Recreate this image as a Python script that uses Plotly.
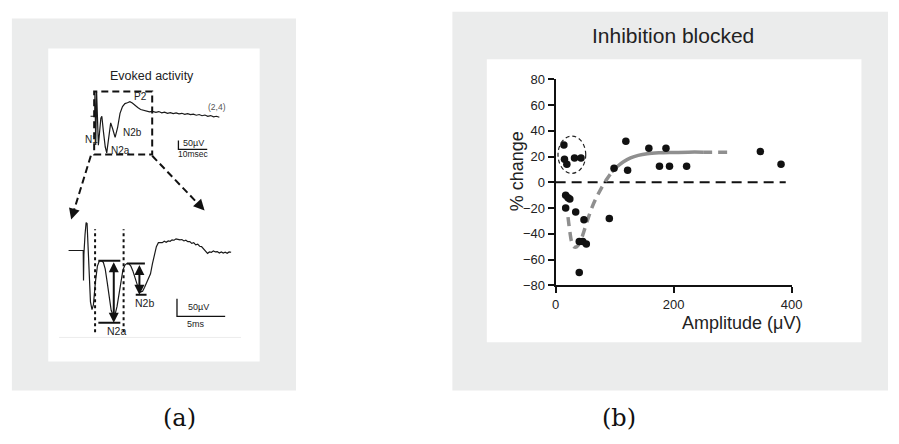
import plotly.graph_objects as go

W, H = 899, 444
SANS = "Liberation Sans, Arial, sans-serif"
INK = "#222222"
PANEL_GRAY = "#ebecec"

# ---------------- Panel (b): % change vs. amplitude ----------------
amplitude_uv = [14, 15, 19, 32, 43,
                17, 21, 24, 17, 34, 48, 91, 40, 46, 52, 40,
                99, 119, 122, 158, 187, 176, 193, 222, 347, 382]
percent_change = [29, 18, 14, 19, 19,
                  -10, -12, -13, -20, -23, -29, -28, -46, -46, -48, -70,
                  11, 32, 9.5, 26.5, 26.5, 12.5, 12.5, 12.5, 24, 14]

# fitted trend: dashed where extrapolated, solid over the sampled range
fit_low_x = [21, 24, 27, 31, 36, 42, 48, 55, 62, 70, 78, 86, 95]
fit_low_y = [-27, -38, -46, -50, -50, -46, -38, -28, -19, -11, -4, 2, 8]
fit_mid_x = [95, 105, 115, 127, 140, 155, 175, 200, 225, 250]
fit_mid_y = [8, 12.5, 16, 19, 21, 22.3, 23, 23.3, 23.5, 23.5]
fit_high_x = [250, 300]
fit_high_y = [23.5, 23.5]

zero_line_x = [0, 390]
zero_line_y = [0, 0]

# small-amplitude cluster outlined by a dashed ellipse
cluster_x = [4, 51]
cluster_y = [7, 36]

x_ticks = [0, 200, 400]
y_ticks = [-80, -60, -40, -20, 0, 20, 40, 60, 80]

# ---------------- Panel (a): evoked activity traces ----------------
# full sweep (ms, µV)
sweep_t = [-1.7, -0.27, -0.17, 0.1, 0.41, 0.68, 1.02, 1.88, 2.22, 2.73, 3.41,
           3.92, 4.44, 5.29, 5.97, 6.83, 7.68, 8.53, 9.39, 10.24, 11.09, 11.95,
           12.8, 13.65, 14.68, 15.7, 16.72, 17.75, 18.77, 19.8,
           21, 22, 23, 24, 25, 26, 27, 28, 29, 30, 31, 32, 33, 34, 35, 36, 37,
           38, 39, 40, 41, 42, 43]
sweep_uv = [-6, -6, 133, -172, 133, -89, -172, -17, -6, -89, -183,
            -217, -156, -44, -78, -128, -72, 11, 50, 67, 72, 78,
            70, 56, 44, 33, 28, 22, 19, 22,
            16, 21, 14, 18, 11, 15, 9, 13, 8, 11, 5, 9, 3, 6, 0, 4, -3,
            1, -6, -2, -9, -6, -12]

# window that is expanded below (ms, µV)
window_t = [-0.44, 19.7]
window_uv = [-226, 137]

# expanded early response (ms, µV)
zoom_t = [-1.56, -0.04, -0.01, 0.03, 0.15, 0.26, 0.36, 0.46, 0.58, 0.71, 0.87,
          1.02, 1.22, 1.43, 1.63, 1.84, 2.04, 2.24, 2.45, 2.65, 2.86, 3.06,
          3.27, 3.47, 3.67, 3.88, 4.08, 4.29, 4.49, 4.69, 4.9, 5.1, 5.31, 5.51,
          5.71, 5.92, 6.12, 6.33, 6.53, 6.73, 6.94, 7.14, 7.35, 7.55, 7.76,
          7.96, 8.16, 8.37, 8.57, 8.78, 8.98, 9.18, 9.39, 9.59, 9.8, 10.0,
          10.2, 10.41, 10.61, 10.82, 11.02, 11.22, 11.43, 11.63, 11.84, 12.04,
          12.24, 12.45, 12.65, 12.86, 13.06, 13.27, 13.47, 13.67, 13.88,
          14.08, 14.29, 14.49, 14.69, 14.9, 15.1, 15.31]
zoom_uv = [0, 0, -85, -11, 46, 79, 76, 5, -90, -145, -167,
           -153, -90, -44, -30, -29, -33, -52, -90, -137, -169, -183,
           -180, -158, -123, -85, -55, -41, -37, -37, -44, -57, -76, -96,
           -109, -117, -115, -104, -93, -82, -66, -38, -11, 11, 22,
           23, 22, 26, 23, 27, 26, 30, 29, 33, 31, 30,
           31, 27, 29, 25, 25, 20, 22, 16, 18, 12,
           11, 5, 0, -8, -4, -5, -1, -4, -3,
           -7, -4, -7, -5, -8, -4, -5]

# N2a / N2b amplitude measurements on the expanded trace
n2a_levels_uv = [-29, -204]
n2a_bar_t = [1.53, 3.81]
n2a_arrow_t = 3.13
n2b_levels_uv = [-37, -125]
n2b_top_bar_t = [4.49, 6.36]
n2b_bottom_bar_t = [5.41, 6.53]
n2b_arrow_t = 5.79
n2_window_t = [1.19, 4.15]
n2_window_uv = [-231, 60]

# calibration bars: (origin ms, origin µV, length ms, length µV)
sweep_cal = (28.8, -196, 10, 50)
zoom_cal = (9.69, -186, 5, 50)


def px(x):
    return x / W


def py(y):
    return 1 - y / H


fig = go.Figure()

# ---- panel (b) traces ----
fig.add_trace(go.Scatter(x=zero_line_x, y=zero_line_y, mode="lines",
                         line=dict(color="#111", width=2, dash="10px,6px"),
                         cliponaxis=False, xaxis="x", yaxis="y"))
fig.add_trace(go.Scatter(x=fit_low_x, y=fit_low_y, mode="lines",
                         line=dict(color="#8f8f8f", width=3.5, dash="9px,6px", shape="spline"),
                         xaxis="x", yaxis="y"))
fig.add_trace(go.Scatter(x=fit_mid_x, y=fit_mid_y, mode="lines",
                         line=dict(color="#8f8f8f", width=3.5, shape="spline"),
                         xaxis="x", yaxis="y"))
fig.add_trace(go.Scatter(x=fit_high_x, y=fit_high_y, mode="lines",
                         line=dict(color="#8f8f8f", width=3.5, dash="9px,6px"),
                         xaxis="x", yaxis="y"))
fig.add_trace(go.Scatter(x=amplitude_uv, y=percent_change, mode="markers",
                         marker=dict(color="#111", size=7.5), cliponaxis=False,
                         xaxis="x", yaxis="y"))

# ---- panel (a) traces ----
fig.add_trace(go.Scatter(x=sweep_t, y=sweep_uv, mode="lines",
                         line=dict(color="#1a1a1a", width=1.2),
                         xaxis="x2", yaxis="y2"))
fig.add_trace(go.Scatter(x=zoom_t, y=zoom_uv, mode="lines",
                         line=dict(color="#1a1a1a", width=1.2),
                         xaxis="x3", yaxis="y3"))

# calibration bars
for cal, xa, ya in [(sweep_cal, "x2", "y2"), (zoom_cal, "x3", "y3")]:
    t0, v0, dt, dv = cal
    fig.add_trace(go.Scatter(x=[t0, t0, t0 + dt], y=[v0 + dv, v0, v0], mode="lines",
                             line=dict(color="#111", width=1.3),
                             xaxis=xa, yaxis=ya))

# N2a / N2b measurement bars
bars = [
    (n2a_bar_t, n2a_levels_uv[0]), (n2a_bar_t, n2a_levels_uv[1]),
    (n2b_top_bar_t, n2b_levels_uv[0]), (n2b_bottom_bar_t, n2b_levels_uv[1]),
]
for bt, lv in bars:
    fig.add_trace(go.Scatter(x=bt, y=[lv, lv], mode="lines",
                             line=dict(color="#111", width=2),
                             xaxis="x3", yaxis="y3"))
for t in n2_window_t:
    fig.add_trace(go.Scatter(x=[t, t], y=n2_window_uv, mode="lines",
                             line=dict(color="#111", width=2, dash="dot"),
                             xaxis="x3", yaxis="y3"))

shapes = [
    # panel backgrounds
    dict(type="rect", xref="paper", yref="paper", x0=px(8), x1=px(297), y0=py(397), y1=py(12),
         fillcolor=PANEL_GRAY, line_width=0, layer="below"),
    dict(type="rect", xref="paper", yref="paper", x0=px(45), x1=px(260), y0=py(367), y1=py(43),
         fillcolor="white", line_width=0, layer="below"),
    dict(type="rect", xref="paper", yref="paper", x0=px(456), x1=px(899), y0=py(397), y1=py(5),
         fillcolor=PANEL_GRAY, line_width=0, layer="below"),
    dict(type="rect", xref="paper", yref="paper", x0=px(491), x1=px(872), y0=py(347), y1=py(54),
         fillcolor="white", line_width=0, layer="below"),
    dict(type="line", xref="paper", yref="paper", x0=px(56), x1=px(241), y0=py(342), y1=py(342),
         line=dict(color="#ececec", width=1), layer="below"),
    # expanded window
    dict(type="rect", xref="x2", yref="y2", x0=window_t[0], x1=window_t[1],
         y0=window_uv[0], y1=window_uv[1], line=dict(color="#111", width=2, dash="7px,4px")),
    # dashed guides to the expanded trace
    dict(type="line", xref="paper", yref="paper", x0=px(88.3), y0=py(154), x1=px(69.5), y1=py(216),
         line=dict(color="#111", width=2, dash="7px,4px")),
    dict(type="line", xref="paper", yref="paper", x0=px(150.7), y0=py(154), x1=px(201), y1=py(207.5),
         line=dict(color="#111", width=2, dash="7px,4px")),
    # outlined cluster
    dict(type="circle", xref="x", yref="y", x0=cluster_x[0], x1=cluster_x[1],
         y0=cluster_y[0], y1=cluster_y[1], line=dict(color="#222", width=1.2, dash="4px,3px")),
]

annotations = []


def note(text, x, y, size, family=SANS, color=INK, xanchor="center", **kw):
    annotations.append(dict(text=text, x=px(x), y=py(y), xref="paper", yref="paper",
                            xanchor=xanchor, yanchor="middle", showarrow=False,
                            font=dict(size=size, family=family, color=color), **kw))


# panel (a) text
note("Evoked activity", 150.7, 71.7, 12.5)
note("P2", 139, 93, 10)
note("N1", 88.5, 137, 10)
note("N2b", 131, 130, 10)
note("N2a", 118, 149, 10)
note("(2,4)", 216.7, 103.5, 8.5, color="#555")
note("50µV", 180.5, 140.7, 9, xanchor="left")
note("10msec", 193, 152.5, 8.5)
note("50µV", 185, 311, 9, xanchor="left")
note("5ms", 195, 327.7, 9)
note("N2a", 114.7, 335, 10.5)
note("N2b", 143, 306, 10.5)
note("(a)", 178, 425, 24, family="DejaVu Serif, serif", color="#111")

# panel (b) text
note("Inhibition blocked", 680, 30, 21)
note("% change", 521.7, 170, 18, textangle=-90)
note("Amplitude (μV)", 750.3, 327, 18)
note("(b)", 625, 425, 24, family="DejaVu Serif, serif", color="#111")

# arrowheads of the dashed guides
annotations.append(dict(x=px(68.3), y=py(220), xref="paper", yref="paper", text="",
                        showarrow=True, arrowhead=2, arrowsize=1.1, arrowwidth=2, arrowcolor="#111",
                        ax=2.4, ay=-8))
annotations.append(dict(x=px(204), y=py(210.7), xref="paper", yref="paper", text="",
                        showarrow=True, arrowhead=2, arrowsize=1.1, arrowwidth=2, arrowcolor="#111",
                        ax=-5.8, ay=-6.2))

# double-headed N2a / N2b arrows
for at, lv in [(n2a_arrow_t, n2a_levels_uv), (n2b_arrow_t, n2b_levels_uv)]:
    annotations.append(dict(x=at, y=lv[1], ax=at, ay=lv[0], xref="x3", yref="y3",
                            axref="x3", ayref="y3", text="", showarrow=True,
                            arrowhead=2, startarrowhead=2, arrowside="end+start",
                            arrowsize=1, startarrowsize=1, arrowwidth=2, arrowcolor="#111"))

axis_common = dict(showgrid=False, zeroline=False, showline=True, linecolor="#111",
                   linewidth=2, ticks="outside", ticklen=6, tickwidth=2, tickcolor="#111",
                   tickfont=dict(size=13, family=SANS, color=INK))
hidden = dict(visible=False, showgrid=False, zeroline=False, fixedrange=True)

fig.update_layout(
    width=W, height=H, autosize=False,
    margin=dict(l=0, r=0, t=0, b=0),
    paper_bgcolor="white", plot_bgcolor="rgba(0,0,0,0)",
    showlegend=False,
    xaxis=dict(domain=[px(561), px(801)], range=[0, 400], tickvals=x_ticks,
               anchor="y", **axis_common),
    yaxis=dict(domain=[py(288), py(75)], range=[-80, 80], tickvals=y_ticks,
               anchor="x", **axis_common),
    xaxis2=dict(domain=[px(45), px(260)], range=[-16.38, 57.0], anchor="y2", **hidden),
    yaxis2=dict(domain=[py(170), py(80)], range=[-322.5, 177.9], anchor="x2", **hidden),
    xaxis3=dict(domain=[px(45), px(260)], range=[-3.67, 18.27], anchor="y3", **hidden),
    yaxis3=dict(domain=[py(350), py(200)], range=[-267.5, 142.0], anchor="x3", **hidden),
    shapes=shapes,
    annotations=annotations,
)

fig.write_html("out.html")
